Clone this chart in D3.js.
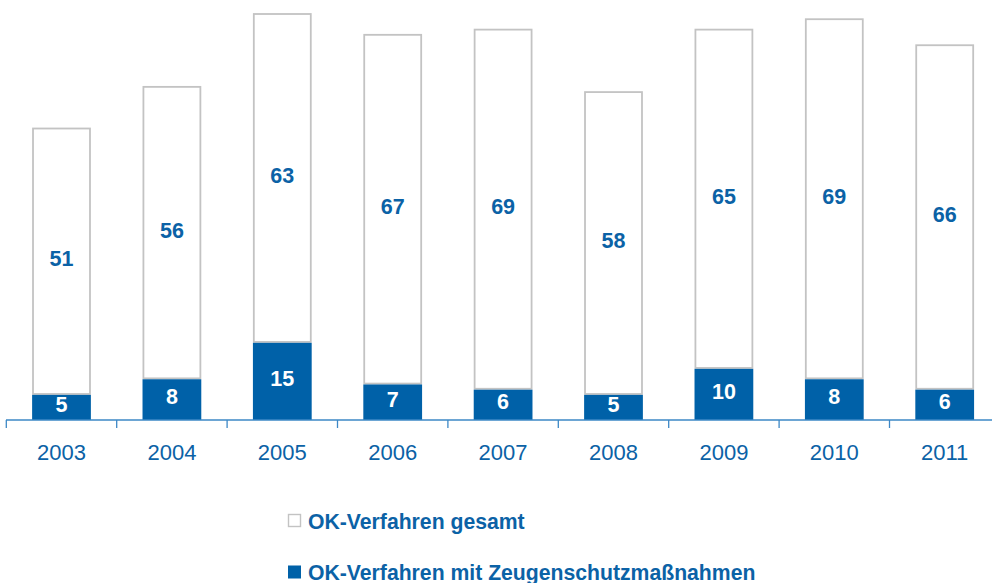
<!DOCTYPE html>
<html>
<head>
<meta charset="utf-8">
<script src="https://cdn.jsdelivr.net/npm/d3@7"></script>
<style>
  body { margin: 0; background: #fff; }
  svg { display: block; font-family: "Liberation Sans", Arial, sans-serif; }
</style>
</head>
<body>
<svg id="mainSvg" width="992" height="583"></svg>
<script>
// data
let years = ['2003', '2004', '2005', '2006', '2007', '2008', '2009', '2010', '2011']
let mitSchutz = [5, 8, 15, 7, 6, 5, 10, 8, 6]      // OK-Verfahren mit Zeugenschutzmaßnahmen
let gesamtRest = [51, 56, 63, 67, 69, 58, 65, 69, 66] // label of the upper (white) segment
let legendLabels = ['OK-Verfahren gesamt', 'OK-Verfahren mit Zeugenschutzmaßnahmen']

let svg = d3.select('#mainSvg')
let blue = '#0061a8'
let textBlue = '#0b62a6'
let gray = '#c3c3c3'

let baseY = 420
let x = d3.scaleBand().domain(years).range([6.3, 999.9]).paddingInner(0.484).paddingOuter(0.242)
let y = d3.scaleLinear().domain([0, 78]).range([baseY, 14])

let rows = years.map((yr, i) => ({ year: yr, low: mitSchutz[i], high: gesamtRest[i] }))

// white (upper) segments
svg.append('g').selectAll('rect')
    .data(rows)
    .enter()
    .append('rect')
    .attr('x', d => x(d.year))
    .attr('width', x.bandwidth())
    .attr('y', d => y(d.low + d.high))
    .attr('height', d => y(d.low) - y(d.low + d.high))
    .attr('fill', '#fff')
    .attr('stroke', gray)
    .attr('stroke-width', 1.8)

// blue (lower) segments
svg.append('g').selectAll('rect')
    .data(rows)
    .enter()
    .append('rect')
    .attr('x', d => x(d.year) - 0.9)
    .attr('width', x.bandwidth() + 1.8)
    .attr('y', d => y(d.low) + 0.9)
    .attr('height', d => y(0) - y(d.low) - 0.9)
    .attr('fill', blue)

// labels
svg.append('g').selectAll('text')
    .data(rows)
    .enter()
    .append('text')
    .attr('x', d => x(d.year) + x.bandwidth() / 2)
    .attr('y', d => (y(d.low) + y(d.low + d.high)) / 2 + 5)
    .attr('text-anchor', 'middle')
    .attr('font-size', 21.5)
    .attr('font-weight', 'bold')
    .attr('fill', textBlue)
    .text(d => d.high)

svg.append('g').selectAll('text')
    .data(rows)
    .enter()
    .append('text')
    .attr('x', d => x(d.year) + x.bandwidth() / 2)
    .attr('y', d => (y(0) + y(d.low)) / 2 + 5)
    .attr('text-anchor', 'middle')
    .attr('font-size', 21.5)
    .attr('font-weight', 'bold')
    .attr('fill', '#fff')
    .text(d => d.low)

// axis
let axis = svg.append('g')
axis.append('line')
    .attr('x1', 6).attr('x2', 992)
    .attr('y1', baseY).attr('y2', baseY)
    .attr('stroke', '#3d88c6').attr('stroke-width', 1.5)
axis.selectAll('line.tick')
    .data(years)
    .enter()
    .append('line')
    .attr('class', 'tick')
    .attr('x1', d => x(d) - x.step() * x.paddingInner() / 2)
    .attr('x2', d => x(d) - x.step() * x.paddingInner() / 2)
    .attr('y1', baseY).attr('y2', baseY + 8)
    .attr('stroke', '#3d88c6').attr('stroke-width', 1.3)
axis.selectAll('text')
    .data(years)
    .enter()
    .append('text')
    .attr('x', d => x(d) + x.bandwidth() / 2)
    .attr('y', 460)
    .attr('text-anchor', 'middle')
    .attr('font-size', 22)
    .attr('fill', textBlue)
    .text(d => d)

// legend
let legend = svg.append('g')
legendLabels.forEach((lab, i) => {
    let ly = 521 + i * 51
    legend.append('rect')
        .attr('x', i === 0 ? 288.5 : 288)
        .attr('y', ly - 6.5)
        .attr('width', i === 0 ? 12 : 13)
        .attr('height', i === 0 ? 12 : 13)
        .attr('fill', i === 0 ? '#fff' : blue)
        .attr('stroke', i === 0 ? gray : 'none')
        .attr('stroke-width', 1.4)
    legend.append('text')
        .attr('x', 308)
        .attr('y', ly + 7.5)
        .attr('font-size', 21.2)
        .attr('font-weight', 'bold')
        .attr('fill', textBlue)
        .text(lab)
})
</script>
</body>
</html>
